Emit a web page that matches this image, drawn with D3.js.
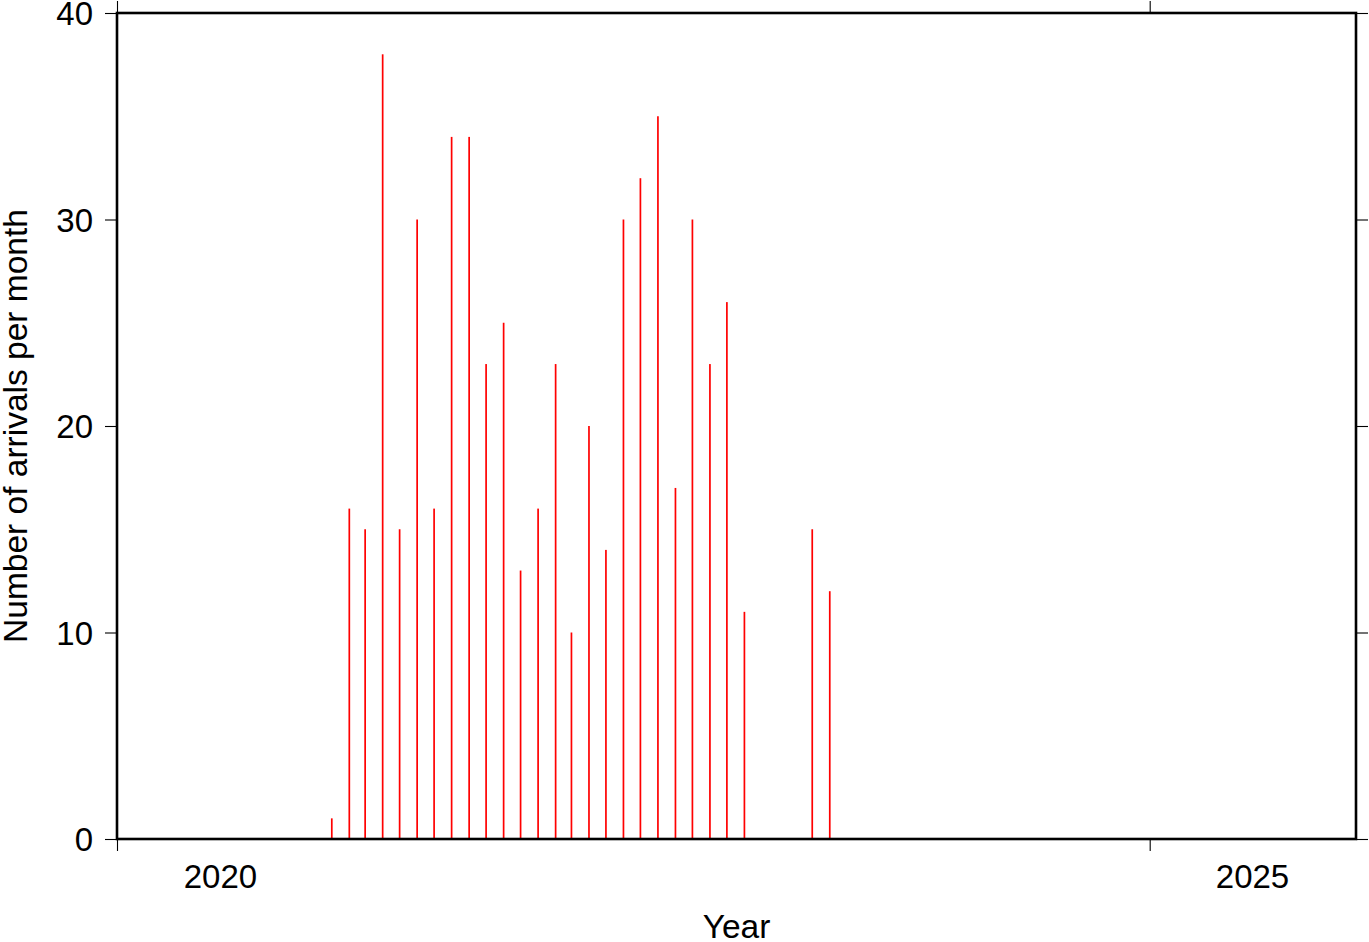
<!DOCTYPE html>
<html>
<head>
<meta charset="utf-8">
<script src="https://cdn.jsdelivr.net/npm/d3@7"></script>
<style>
  html, body { margin: 0; padding: 0; background: #fff; }
  svg { display: block; }
  text { font-family: "Liberation Sans", Arial, Helvetica, sans-serif; fill: #000; }
</style>
</head>
<body>
<svg id="chart" width="1369" height="942"></svg>
<script>
// ---- data ----
const months = [
  "2021-01","2021-02","2021-03","2021-04","2021-05","2021-06",
  "2021-07","2021-08","2021-09","2021-10","2021-11","2021-12",
  "2022-01","2022-02","2022-03","2022-04","2022-05","2022-06",
  "2022-07","2022-08","2022-09","2022-10","2022-11","2022-12",
  "2023-01","2023-02","2023-03","2023-04","2023-05","2023-06"
];
const arrivals = [
  1, 16, 15, 38, 15, 30,
  16, 34, 34, 23, 25, 13,
  16, 23, 10, 20, 14, 30,
  32, 35, 17, 30, 23, 26,
  11, 0, 0, 0, 15, 12
];
const yTicks = [0, 10, 20, 30, 40];
const yearTicks = [2020, 2025];
const xDomainYears = [2020, 2026];
const yLabel = "Number of arrivals per month";
const xLabel = "Year";

// ---- layout ----
const pLeft = 117, pRight = 1356, pTop = 13, pBottom = 839;
const fontSize = 33;
const titleSize = 33.5;

const svg = d3.select("#chart");

const x = d3.scaleUtc()
  .domain(xDomainYears.map(yr => new Date(Date.UTC(yr, 0, 1))))
  .range([pLeft, pRight]);
const y = d3.scaleLinear().domain([0, 40]).range([pBottom, pTop]);

const parseMonth = s => { const [yr, m] = s.split("-").map(Number); return new Date(Date.UTC(yr, m - 1, 15)); };
const data = months.map((m, i) => ({ date: parseMonth(m), value: arrivals[i] }));

// bars
const barW = 1.7;
svg.append("g").selectAll("rect").data(data).join("rect")
  .attr("x", d => x(d.date) - barW / 2)
  .attr("y", d => y(d.value))
  .attr("width", barW)
  .attr("height", d => y(0) - y(d.value))
  .attr("fill", "#ff0000");

// axes
const styleAxis = g => {
  g.select(".domain").remove();
  g.selectAll(".tick line").attr("stroke", "#000").attr("stroke-width", 1.1);
  g.selectAll(".tick text").attr("font-size", fontSize).attr("fill", "#000")
    .style("font-family", '"Liberation Sans", Arial, Helvetica, sans-serif');
};

svg.append("g").attr("transform", `translate(${pLeft},0)`)
  .call(d3.axisLeft(y).tickValues(yTicks).tickSize(12).tickPadding(12))
  .call(styleAxis)
  .call(g => g.selectAll(".tick text").attr("dy", "0.36em"));

svg.append("g").attr("transform", `translate(${pRight},0)`)
  .call(d3.axisRight(y).tickValues(yTicks).tickSize(12).tickFormat(""))
  .call(styleAxis);

const yearDates = yearTicks.map(yr => new Date(Date.UTC(yr, 0, 1)));
svg.append("g").attr("transform", `translate(0,${pTop})`)
  .call(d3.axisTop(x).tickValues(yearDates).tickSize(12).tickFormat(""))
  .call(styleAxis);

svg.append("g").attr("transform", `translate(0,${pBottom})`)
  .call(d3.axisBottom(x).tickValues(yearDates).tickSize(12).tickFormat(""))
  .call(styleAxis);

// year labels centred in the year interval
const midYears = yearTicks.map(yr => new Date(Date.UTC(yr, 6, 1)));
svg.append("g").attr("transform", `translate(0,${pBottom})`)
  .call(d3.axisBottom(x).tickValues(midYears).tickSize(0).tickPadding(26)
    .tickFormat(d3.utcFormat("%Y")))
  .call(styleAxis);

// frame
svg.append("rect")
  .attr("x", pLeft).attr("y", pTop)
  .attr("width", pRight - pLeft).attr("height", pBottom - pTop)
  .attr("fill", "none").attr("stroke", "#000").attr("stroke-width", 2.6);

// axis titles
svg.append("text")
  .attr("x", (pLeft + pRight) / 2).attr("y", 938)
  .attr("text-anchor", "middle").attr("font-size", titleSize)
  .text(xLabel);

svg.append("text")
  .attr("transform", `translate(27,${(pTop + pBottom) / 2}) rotate(-90)`)
  .attr("text-anchor", "middle").attr("font-size", titleSize)
  .text(yLabel);
</script>
</body>
</html>
